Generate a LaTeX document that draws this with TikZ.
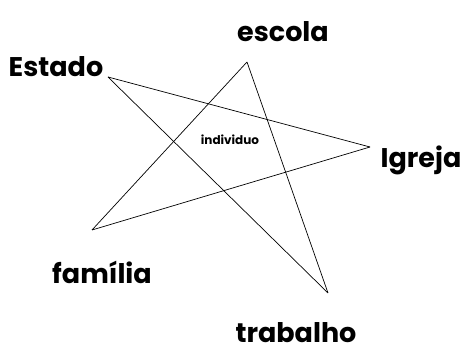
\documentclass[tikz,border=0pt]{standalone}
\usepackage{fontspec}
\setmainfont{Poppins}
\begin{document}
\begin{tikzpicture}[
  x=1pt, y=-1pt,
  label_big/.style={font=\fontsize{27}{30}\selectfont\bfseries, inner sep=0pt},
  label_small/.style={font=\fontsize{12}{14}\selectfont\bfseries, inner sep=0pt},
  line/.style={draw, -, line width=0.7pt}
  ]

\useasboundingbox (0,0) rectangle (469,352);

\coordinate (vEscola) at (247,62);
\coordinate (vEstado) at (108,77);
\coordinate (vIgreja) at (370,147);
\coordinate (vFamilia) at (92,230);
\coordinate (vTrabalho) at (328,293);

\node [label_big] (escola) at (283,32) {escola};
\node [label_big] (estado) at (56,67) {Estado};
\node [label_big] (igreja) at (421,160) {Igreja};
\node [label_big] (familia) at (102,272) {família};
\node [label_big] (trabalho) at (296,333) {trabalho};
\node [label_small] (individuo) at (230,140) {individuo};

\path [line] (vEstado) -- (vIgreja);
\path [line] (vEstado) -- (vTrabalho);
\path [line] (vEscola) -- (vFamilia);
\path [line] (vEscola) -- (vTrabalho);
\path [line] (vFamilia) -- (vIgreja);

\end{tikzpicture}
\end{document}
